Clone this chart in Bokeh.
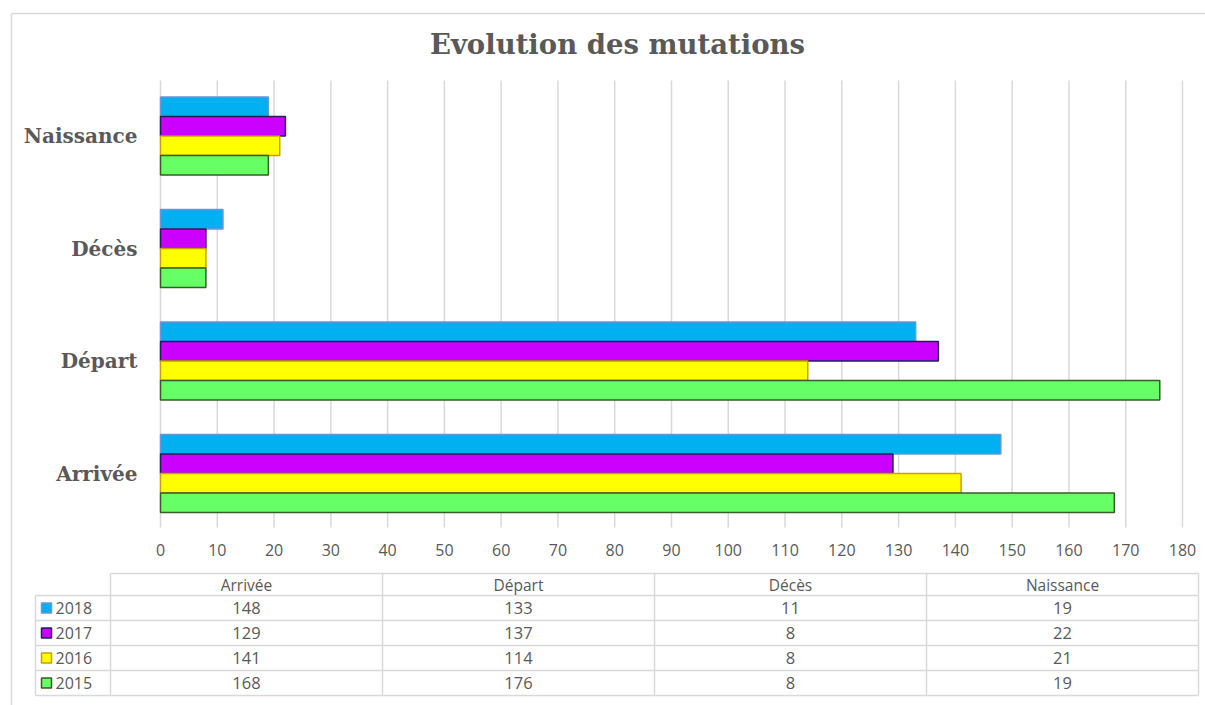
from bokeh.plotting import figure
from bokeh.models import Range1d, ColumnDataSource
from bokeh.core.properties import value
from bokeh.embed import file_html
from bokeh.resources import INLINE

# ---- data ----
categories = ["Arrivée", "Départ", "Décès", "Naissance"]
years = ["2018", "2017", "2016", "2015"]
v2018 = [148, 133, 11, 19]
v2017 = [129, 137, 8, 22]
v2016 = [141, 114, 8, 21]
v2015 = [168, 176, 8, 19]
x_ticks = list(range(0, 181, 10))
title_text = "Evolution des mutations"

series = [v2018, v2017, v2016, v2015]
fills = ["#00B0F0", "#CC00FF", "#FFFF00", "#66FF66"]
lines = ["#6A95D6", "#1F1F5C", "#C9A000", "#3A5A26"]

# ---- layout constants (page pixels) ----
W, H = 1205, 705
X0_PX, X180_PX = 160.0, 1182.0
s = (X180_PX - X0_PX) / 180.0
PAGE_L, PAGE_R = 0.0, 0.0 + W
PAGE_T, PAGE_B = 0.0, 0.0 + H

p = figure(width=W, height=H, output_backend="svg", toolbar_location=None,
           x_axis_type=None, y_axis_type=None, title=None,
           x_range=Range1d((PAGE_L - X0_PX) / s, (PAGE_R - X0_PX) / s),
           y_range=Range1d(PAGE_B, PAGE_T),
           min_border=0, min_border_left=0, min_border_right=0,
           min_border_top=0, min_border_bottom=0)
p.outline_line_color = None
p.background_fill_color = "white"
p.border_fill_color = "white"
p.extra_x_ranges = {"px": Range1d(PAGE_L, PAGE_R)}

GRAY = "#d9d9d9"
TXT = "#595959"

# outer border (left & top)
p.segment(x0=[11, 11], y0=[13, 13], x1=[11, PAGE_R], y1=[PAGE_B, 13],
          line_color=GRAY, line_width=1.5, x_range_name="px")

# title
p.text(x=[617], y=[43], text=[title_text], x_range_name="px",
       text_font=value("DejaVu Serif"), text_font_style="bold",
       text_font_size="27.5px", text_color=TXT,
       text_align="center", text_baseline="middle")

# vertical gridlines
p.segment(x0=x_ticks, x1=x_ticks, y0=[80] * len(x_ticks), y1=[527] * len(x_ticks),
          line_color=GRAY, line_width=1.5)

# tick labels
p.text(x=x_ticks, y=[549] * len(x_ticks), text=[str(t) for t in x_ticks],
       text_font=value("Open Sans"), text_font_size="16px", text_color=TXT,
       text_align="center", text_baseline="middle")

# bars
GROUP_BOTTOM = 473.0
BAND = 112.5
BAR_H = 19.5
centers = [GROUP_BOTTOM - BAND * k for k in range(len(categories))]
offsets = [-1.5 * BAR_H, -0.5 * BAR_H, 0.5 * BAR_H, 1.5 * BAR_H]
for vals, off, fc, lc in zip(series, offsets, fills, lines):
    src = ColumnDataSource(dict(y=[c + off for c in centers], right=vals))
    p.hbar(y="y", left=0, right="right", height=BAR_H, source=src,
           fill_color=fc, line_color=lc, line_width=1.5)

# category labels
p.text(x=[(137 - X0_PX) / s] * len(categories), y=centers, text=categories,
       text_font=value("DejaVu Serif"), text_font_style="bold",
       text_font_size="20px", text_color=TXT,
       text_align="right", text_baseline="middle")

# ---- data table ----
T_TOP, H_BOT = 573, 595
ROW_H = 25
LEG_L, COL_L, COL_W = 35, 110, 272
T_R = COL_L + COL_W * len(categories)
row_bounds = [H_BOT + ROW_H * i for i in range(len(years) + 1)]
col_bounds = [COL_L + COL_W * i for i in range(len(categories))]

hx0 = [COL_L] + [LEG_L] * len(row_bounds)
hx1 = [T_R] * (1 + len(row_bounds))
hy = [T_TOP] + row_bounds
p.segment(x0=hx0, x1=hx1, y0=hy, y1=hy, line_color=GRAY, line_width=1.5,
          x_range_name="px")
vx = col_bounds + [T_R, LEG_L]
vy0 = [T_TOP] * (len(col_bounds) + 1) + [H_BOT]
vy1 = [row_bounds[-1]] * len(vx)
p.segment(x0=vx, x1=vx, y0=vy0, y1=vy1, line_color=GRAY, line_width=1.5,
          x_range_name="px")

col_centers = [COL_L + COL_W * (i + 0.5) for i in range(len(categories))]
p.text(x=col_centers, y=[(T_TOP + H_BOT) / 2] * len(categories), text=categories,
       x_range_name="px", text_font=value("Open Sans"), text_font_size="15.5px",
       text_color=TXT, text_align="center", text_baseline="middle")

row_centers = [H_BOT + ROW_H * (i + 0.5) for i in range(len(years))]
for yc, vals in zip(row_centers, series):
    p.text(x=col_centers, y=[yc] * len(vals), text=[str(v) for v in vals],
           x_range_name="px", text_font=value("Open Sans"), text_font_size="16.5px",
           text_color=TXT, text_align="center", text_baseline="middle")

p.rect(x=[46] * len(years), y=row_centers, width=10, height=10,
       fill_color=fills, line_color=lines, line_width=1.5, x_range_name="px")
p.text(x=[55] * len(years), y=row_centers, text=years, x_range_name="px",
       text_font=value("Open Sans"), text_font_size="16px", text_color=TXT,
       text_align="left", text_baseline="middle")

open("out.html", "w").write(file_html(p, INLINE))
